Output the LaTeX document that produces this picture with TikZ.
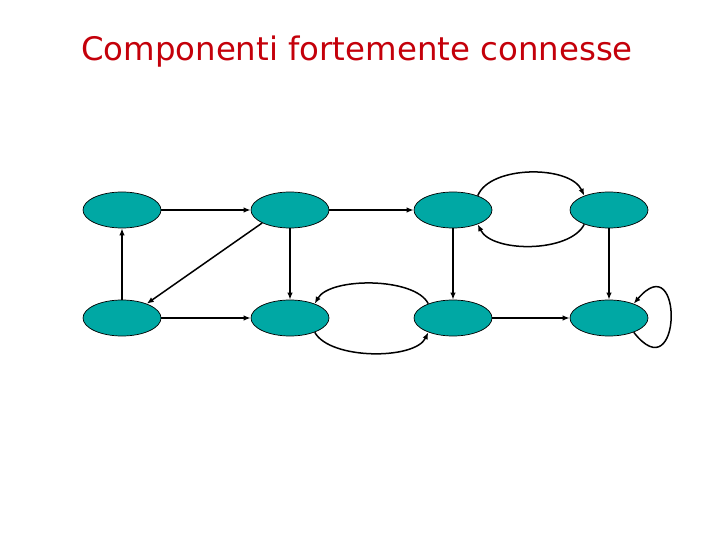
\documentclass[tikz,border=0pt]{standalone}
\usepackage{fontspec}
\newfontfamily\titlefont{DejaVu Sans}
\usetikzlibrary{shapes.geometric,arrows.meta}
\definecolor{teal1}{RGB}{0,168,164}
\definecolor{titlered}{RGB}{196,0,10}
\tikzset{
  vtx/.style={ellipse,draw=black,line width=0.7pt,fill=teal1,minimum width=78pt,minimum height=36pt,inner sep=0pt},
  edge/.style={line width=1.5pt,-{Latex[length=7pt,width=5.5pt]}}
}
\begin{document}
\begin{tikzpicture}[x=1pt,y=-1pt]
\useasboundingbox (0,0) rectangle (720,540);
\node[anchor=base,text=titlered,font=\titlefont\fontsize{32.4}{38}\selectfont] (title) at (357,61) {Componenti fortemente connesse};
\node[vtx] (A) at (122,210) {};
\node[vtx] (B) at (290,210) {};
\node[vtx] (C) at (453,210) {};
\node[vtx] (D) at (609,210) {};
\node[vtx] (E) at (122,318) {};
\node[vtx] (F) at (290,318) {};
\node[vtx] (G) at (453,318) {};
\node[vtx] (H) at (609,318) {};
\draw[edge] (A) -- (B);
\draw[edge] (B) -- (C);
\draw[edge] (E) -- (A);
\draw[edge] (B.205) -- (E.30);
\draw[edge] (B) -- (F);
\draw[edge] (E) -- (F);
\draw[edge] (C) -- (G);
\draw[edge] (D) -- (H);
\draw[edge] (G) -- (H);
\draw[edge] (C.30) .. controls (490,165) and (570,165) .. (D.150);
\draw[edge] (D.210) .. controls (570,253) and (492,253) .. (C.330);
\draw[edge] (G.150) .. controls (415,277) and (330,277) .. (F.30);
\draw[edge] (F.330) .. controls (330,360) and (415,360) .. (G.210);
\draw[edge] (H.330) .. controls (682,394) and (684,244) .. (H.30);
\end{tikzpicture}
\end{document}
